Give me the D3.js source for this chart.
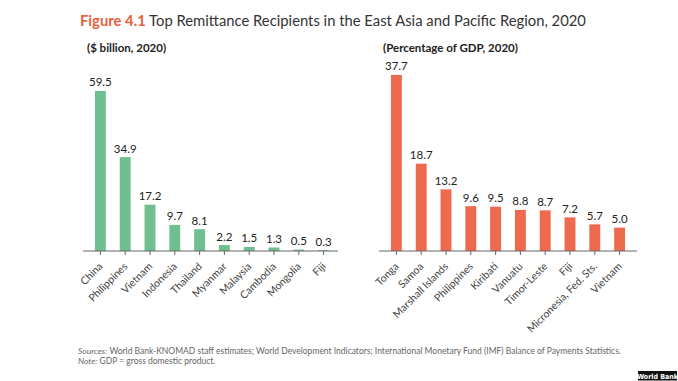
<!DOCTYPE html>
<html>
<head>
<meta charset="utf-8">
<script src="https://cdn.jsdelivr.net/npm/d3@7"></script>
<style>
  body { margin: 0; background: #fff; }
  svg { display: block; font-family: Lato, 'Noto Sans', sans-serif; }
</style>
</head>
<body>
<svg id="chart" width="678" height="381"></svg>
<script>
const billionCountries = ['China', 'Philippines', 'Vietnam', 'Indonesia', 'Thailand',
  'Myanmar', 'Malaysia', 'Cambodia', 'Mongolia', 'Fiji'];
const billionValues = [59.5, 34.9, 17.2, 9.7, 8.1, 2.2, 1.5, 1.3, 0.5, 0.3];

const gdpCountries = ['Tonga', 'Samoa', 'Marshall Islands', 'Philippines', 'Kiribati',
  'Vanuatu', 'Timor-Leste', 'Fiji', 'Micronesia, Fed. Sts.', 'Vietnam'];
const gdpValues = [37.7, 18.7, 13.2, 9.6, 9.5, 8.8, 8.7, 7.2, 5.7, 5.0];

const svg = d3.select('#chart');
const baseY = 251;

// title
const title = svg.append('text').attr('x', 80).attr('y', 26).style('font-size', '14.8px');
title.append('tspan').text('Figure 4.1').attr('fill', '#e8603f').style('font-weight', 'bold');
title.append('tspan').text(' Top Remittance Recipients in the East Asia and Pacific Region, 2020')
  .attr('fill', '#333');

svg.append('text').attr('x', 87).attr('y', 52).text('($ billion, 2020)')
  .attr('fill', '#222').style('font-size', '11.5px').style('font-weight', 'bold');
svg.append('text').attr('x', 383).attr('y', 52).text('(Percentage of GDP, 2020)')
  .attr('fill', '#222').style('font-size', '11.5px').style('font-weight', 'bold');

function drawPanel(cats, vals, opts) {
  const x = d3.scaleBand().domain(cats).range(opts.range)
    .paddingInner(0.56).paddingOuter(0.28);
  const y = d3.scaleLinear().domain(opts.domain).range([baseY, opts.top]);
  const g = svg.append('g');

  g.selectAll('rect.bar').data(cats).enter().append('rect')
    .attr('class', 'bar')
    .attr('x', d => x(d))
    .attr('width', x.bandwidth())
    .attr('y', (d, i) => y(vals[i]))
    .attr('height', (d, i) => y(0) - y(vals[i]))
    .attr('fill', opts.color);

  g.selectAll('text.val').data(cats).enter().append('text')
    .attr('class', 'val')
    .attr('x', d => x(d) + x.bandwidth() / 2)
    .attr('y', (d, i) => y(vals[i]) - 4.5)
    .attr('text-anchor', 'middle')
    .attr('fill', '#222')
    .style('font-size', '11.5px')
    .text((d, i) => vals[i].toFixed(1));

  const axis = d3.axisBottom(x).tickSize(4).tickSizeOuter(0);
  const ax = g.append('g').attr('transform', `translate(0,${baseY})`).call(axis);
  ax.select('.domain').remove();
  ax.insert('line', ':first-child')
    .attr('x1', opts.axis[0]).attr('x2', opts.axis[1])
    .attr('stroke', '#666').attr('stroke-width', 1.2);
  ax.selectAll('.tick line').attr('stroke', '#666');
  ax.selectAll('.tick text')
    .attr('fill', '#444')
    .attr('x', 0).attr('y', 0).attr('dy', 0)
    .style('font-size', '10.5px')
    .style('font-family', 'Lato, sans-serif')
    .attr('text-anchor', 'end')
    .attr('transform', 'translate(3,16) rotate(-45)');
}

drawPanel(billionCountries, billionValues, {
  range: [88, 336], axis: [83, 338], domain: [0, 60], top: 89.6, color: '#6fbf90'
});
drawPanel(gdpCountries, gdpValues, {
  range: [384, 632], axis: [379, 637], domain: [0, 40], top: 64.2, color: '#ee6a4f'
});

// footer
const f1 = svg.append('text').attr('x', 78).attr('y', 354)
  .attr('fill', '#666').style('font-size', '8.5px');
f1.append('tspan').text('Sources:').style('font-style', 'italic');
f1.append('tspan').text(' World Bank-KNOMAD staff estimates; World Development Indicators; International Monetary Fund (IMF) Balance of Payments Statistics.');
const f2 = svg.append('text').attr('x', 78).attr('y', 364)
  .attr('fill', '#666').style('font-size', '8.5px');
f2.append('tspan').text('Note:').style('font-style', 'italic');
f2.append('tspan').text(' GDP = gross domestic product.');

svg.append('rect').attr('x', 638).attr('y', 371).attr('width', 39).attr('height', 9.5).attr('fill', '#111');
svg.append('text').attr('x', 657.5).attr('y', 378.5).attr('text-anchor', 'middle')
  .attr('fill', '#fff').style('font-size', '7px').style('font-weight', 'bold')
  .style('font-family', "'Liberation Sans Narrow', 'DejaVu Sans Condensed', sans-serif")
  .text('World Bank');
</script>
</body>
</html>
